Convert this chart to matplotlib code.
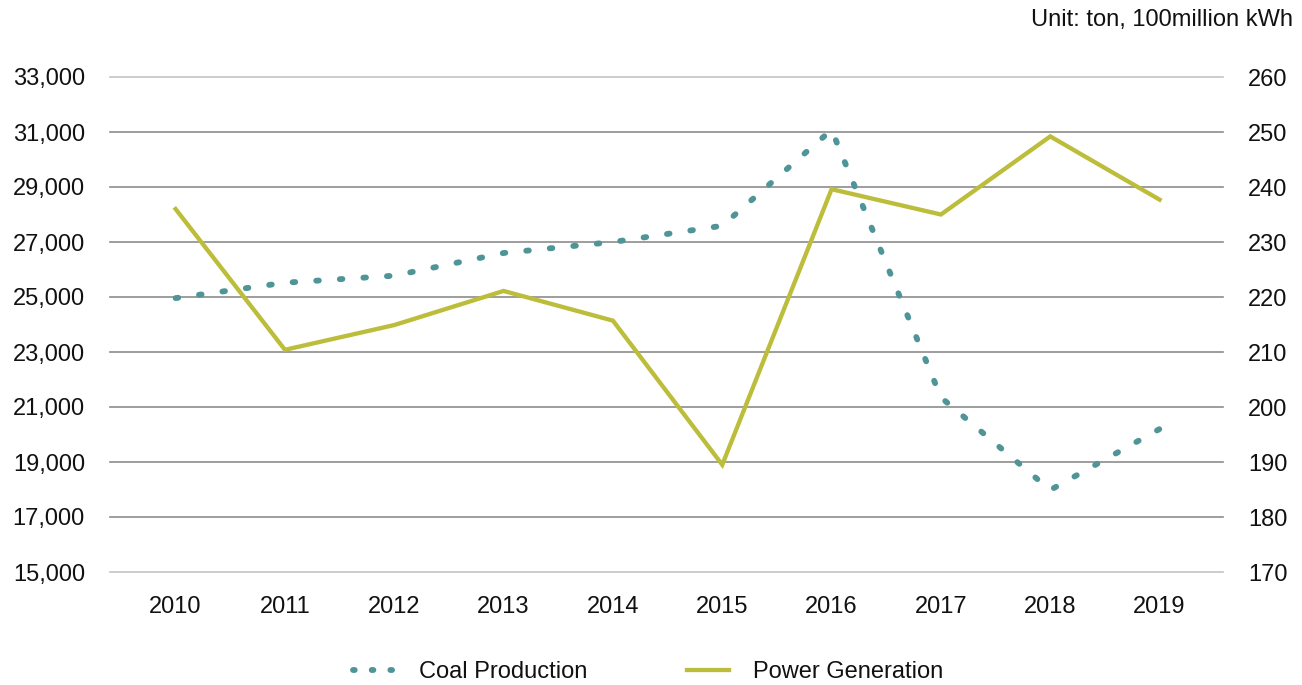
import matplotlib
matplotlib.use("Agg")
import matplotlib.pyplot as plt
from matplotlib.lines import Line2D

years = ["2010", "2011", "2012", "2013", "2014", "2015", "2016", "2017", "2018", "2019"]
coal_production = [24960, 25520, 25775, 26600, 27000, 27590, 31080, 21350, 17980, 20200]
power_generation = [236.0, 210.4, 214.9, 221.1, 215.7, 189.5, 239.6, 235.0, 249.2, 237.7]
left_ticks = [15000, 17000, 19000, 21000, 23000, 25000, 27000, 29000, 31000, 33000]
right_ticks = [170, 180, 190, 200, 210, 220, 230, 240, 250, 260]

plt.rcParams['font.family'] = ['Liberation Sans', 'DejaVu Sans']
COAL = '#4f9598'
POWER = '#bcbd3a'

W, H = 1302, 685
fig = plt.figure(figsize=(W / 100, H / 100), dpi=100)
ax = fig.add_axes([110 / W, (H - 572) / H, (1223 - 110) / W, (572 - 77) / H])
ax2 = ax.twinx()

x = list(range(len(years)))
ax.set_xlim(-0.6, 9.58)
ax.set_ylim(left_ticks[0], left_ticks[-1])
ax2.set_ylim(right_ticks[0], right_ticks[-1])

for i, t in enumerate(left_ticks):
    col = '#c4c4c4' if i in (0, len(left_ticks) - 1) else '#8c8c8c'
    ax.axhline(t, color=col, lw=1.2, zorder=0, clip_on=False)

ax.plot(x, coal_production, color=COAL, lw=4.2, linestyle=(0, (0.45, 3.6)),
        dash_capstyle='round', solid_capstyle='round', zorder=3, clip_on=False)
ax2.plot(x, power_generation, color=POWER, lw=3.1, solid_joinstyle='miter', zorder=3,
         clip_on=False)

ax.set_xticks(x)
ax.set_xticklabels(years)
ax.set_yticks(left_ticks)
ax.set_yticklabels([f"{v:,}" for v in left_ticks])
ax2.set_yticks(right_ticks)
ax2.set_yticklabels([str(v) for v in right_ticks])

for a in (ax, ax2):
    for s in a.spines.values():
        s.set_visible(False)
ax.tick_params(axis='both', length=0, labelsize=17, colors='#111111')
ax.tick_params(axis='y', pad=18)
ax.tick_params(axis='x', pad=17)
ax2.tick_params(axis='y', length=0, labelsize=17, colors='#111111', pad=18)

fig.text(1293 / W, 1 - 20 / H, "Unit: ton, 100million kWh", ha='right', va='center',
         fontsize=17, color='#111111')

h1 = Line2D([], [], color=COAL, lw=4.2, linestyle=(0, (0.3, 2.9)), dash_capstyle='round')
h2 = Line2D([], [], color=POWER, lw=3.1)
fig.legend([h1, h2], ["Coal Production", "Power Generation"], loc='center',
           bbox_to_anchor=((352 + 944) / 2 / W, 1 - 672 / H), ncol=2, frameon=False,
           fontsize=17, handlelength=1.8, handletextpad=1.0, columnspacing=4.2,
           labelcolor='#111111')

fig.savefig("out.png", dpi=100)
